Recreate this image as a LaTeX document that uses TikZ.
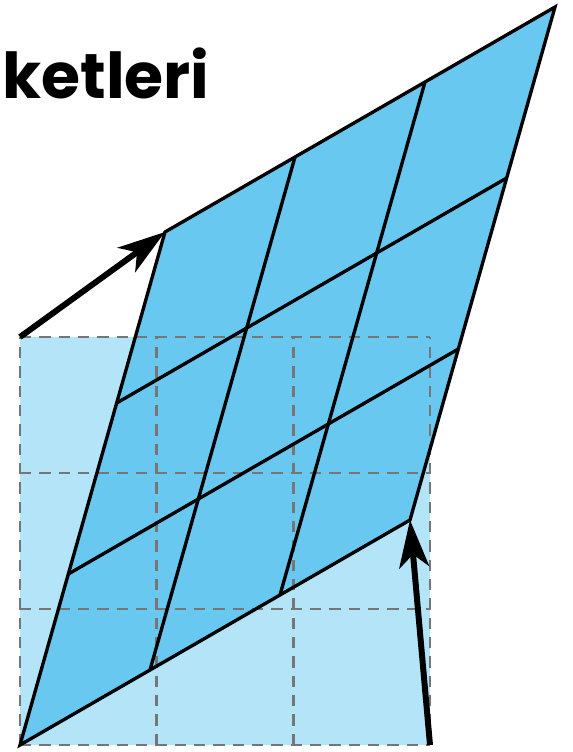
\documentclass[tikz,border=0pt]{standalone}
\usepackage{fontspec}
\newfontfamily\titlefont{Poppins}
\usetikzlibrary{arrows.meta,calc}
\definecolor{squareblue}{RGB}{180,228,248}
\definecolor{sheetblue}{RGB}{104,200,240}
\definecolor{gridgray}{RGB}{118,118,118}

\begin{document}
\begin{tikzpicture}[x=0.02cm,y=-0.02cm,
    dashgrid/.style={gridgray, line width=1.4pt, dash pattern=on 6.5pt off 4.5pt},
    sheetline/.style={black, line width=1.9pt},
    vecarrow/.style={black, line width=3.4pt, -{Stealth[length=0.95cm, width=0.6cm, inset=0.26cm]}}]
    \useasboundingbox (0,0) rectangle (573,752);
    % unit square corners
    \coordinate (O) at (20,745);
    \coordinate (Q) at (20,337);
    \coordinate (P) at (430,745);
    % images of the corners
    \coordinate (A) at (410,520);
    \coordinate (C) at (165,232);
    \coordinate (B) at (555,7);

    % the square
    \fill[squareblue] (Q) rectangle (P);
    % the sheared sheet
    \fill[sheetblue] (O) -- (A) -- (B) -- (C) -- cycle;

    % dashed grid of the square
    \foreach \t in {0,1,2,3} {
        \draw[dashgrid] ($(O)!\t/3!(P)$) -- ($(Q)!\t/3!(P |- Q)$);
        \draw[dashgrid] ($(O)!\t/3!(Q)$) -- ($(P)!\t/3!(P |- Q)$);
    }

    % solid grid of the sheet
    \foreach \t in {1,2} {
        \draw[sheetline] ($(O)!\t/3!(A)$) -- ($(C)!\t/3!(B)$);
        \draw[sheetline] ($(O)!\t/3!(C)$) -- ($(A)!\t/3!(B)$);
    }
    \draw[sheetline] (O) -- (A) -- (B) -- (C) -- cycle;

    % the two vectors
    \draw[vecarrow] (Q) -- (C);
    \draw[vecarrow] (P) -- (A);

    \node[anchor=base west, inner sep=0pt, font=\titlefont\bfseries\fontsize{36}{36}\selectfont] (title) at (2,98) {ketleri};
\end{tikzpicture}
\end{document}
